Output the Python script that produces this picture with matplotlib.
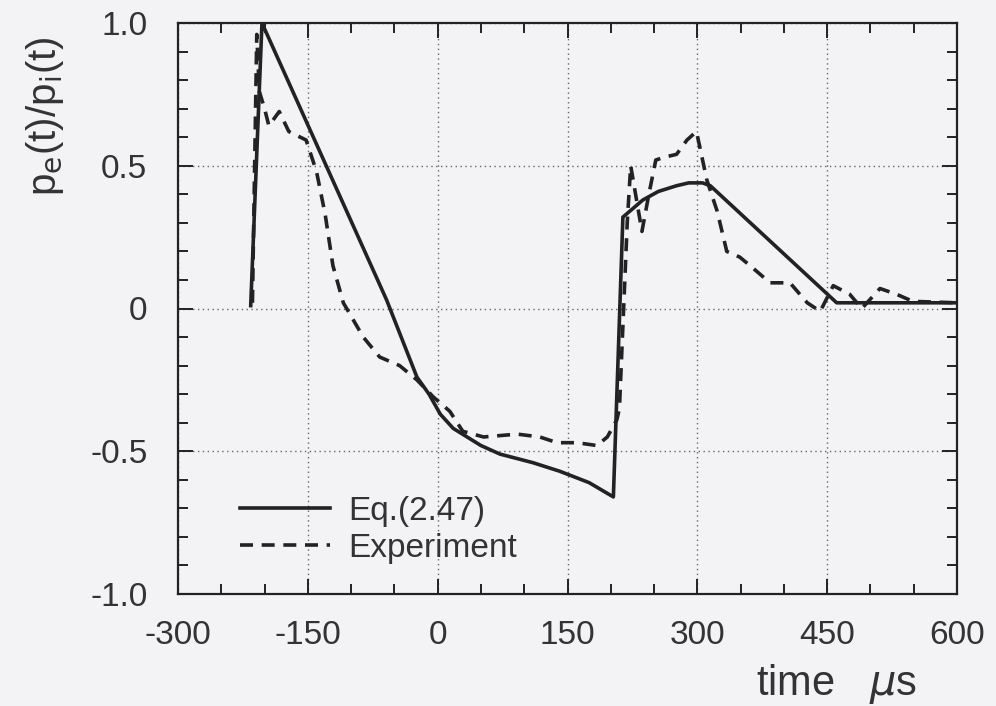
import numpy as np
import matplotlib
matplotlib.use("Agg")
from matplotlib import pyplot as plt
from matplotlib.ticker import MultipleLocator

plt.rcParams['font.family'] = ['Liberation Sans', 'DejaVu Sans']
plt.rcParams['mathtext.fontset'] = 'dejavusans'

# Eq.(2.47) curve (time in microseconds)
t_eq = [-216, -203, -59, -24, -10, 3, 18, 34, 50, 72, 110, 141, 175, 203,
        214, 237, 255, 276, 290, 306, 315, 461, 600]
p_eq = [0.01, 1.0, 0.03, -0.24, -0.30, -0.37, -0.42, -0.45, -0.48, -0.51,
        -0.54, -0.57, -0.61, -0.66,
        0.32, 0.38, 0.41, 0.43, 0.44, 0.44, 0.43, 0.02, 0.02]

# measured curve
t_exp = [-214, -209, -206, -200, -195, -183, -172, -152, -140, -130, -121,
         -109, -86, -67, -44, -24, -5, 14, 29, 53, 92, 118, 138, 161, 184,
         196, 207, 210, 219, 223, 236, 244, 252, 262, 276, 288, 299, 311,
         323, 334, 349, 361, 384, 407, 427, 442, 457, 476, 490, 511, 530,
         549, 600]
p_exp = [0.02, 0.96, 0.76, 0.70, 0.64, 0.69, 0.62, 0.59, 0.48, 0.33, 0.15,
         0.02, -0.10, -0.17, -0.20, -0.25, -0.31, -0.36, -0.43, -0.45, -0.44,
         -0.45, -0.47, -0.47, -0.48, -0.45, -0.39, -0.35, 0.30, 0.50, 0.27,
         0.40, 0.52, 0.53, 0.54, 0.59, 0.62, 0.45, 0.34, 0.20, 0.18, 0.15,
         0.09, 0.09, 0.02, -0.01, 0.08, 0.05, 0.0, 0.07, 0.05, 0.025, 0.02]

x_ticks = [-300, -150, 0, 150, 300, 450, 600]
y_ticks = [-1.0, -0.5, 0, 0.5, 1.0]
y_labels = ['-1.0', '-0.5', '0', '0.5', '1.0']

bg = '#f3f2f5'
ink = '#222222'
txt = '#333333'

fig = plt.figure(figsize=(9.96, 7.06), dpi=100, facecolor=bg)
ax = fig.add_axes([178 / 996, 1 - 594 / 706, 779 / 996, 571 / 706])
ax.set_facecolor(bg)

ax.plot(t_eq, p_eq, color=ink, lw=2.6, label='Eq.(2.47)',
        solid_joinstyle='round')
ax.plot(t_exp, p_exp, color=ink, lw=2.6, linestyle=(0, (3.6, 2.4)),
        label='Experiment')

ax.set_xlim(-300, 600)
ax.set_ylim(-1.0, 1.0)
ax.set_xticks(x_ticks)
ax.set_xticklabels([str(v) for v in x_ticks])
ax.set_yticks(y_ticks)
ax.set_yticklabels(y_labels)
ax.xaxis.set_minor_locator(MultipleLocator(50))
ax.yaxis.set_minor_locator(MultipleLocator(0.1))

ax.grid(True, which='major', color='#666666', linestyle=(0, (1, 2.5)), lw=1.0)
ax.tick_params(which='both', direction='in', top=True, right=True,
               colors=ink, width=1.4, labelcolor=txt, labelsize=24)
ax.tick_params(which='major', length=11)
ax.tick_params(which='minor', length=7)
ax.tick_params(axis='x', pad=19)
ax.tick_params(axis='y', pad=22)
for s in ax.spines.values():
    s.set_color(ink)
    s.set_linewidth(1.6)

leg = ax.legend(loc='upper left', bbox_to_anchor=(240 / 996, 1 - 496 / 706),
                bbox_transform=fig.transFigure, frameon=False, fontsize=24,
                handlelength=2.7, handletextpad=0.55, labelspacing=0.18,
                borderpad=0, borderaxespad=0)
for t in leg.get_texts():
    t.set_color(txt)

fig.text(45 / 996, 1 - 116 / 706, r'p$_{\rm e}$(t)/p$_{\rm i}$(t)',
         rotation=90, ha='center', va='center', fontsize=29, color=txt)
fig.text(756 / 996, 1 - 684 / 706, r'time   $\mu$s', ha='left', va='center',
         fontsize=30, color=txt)

fig.savefig('out.png', dpi=100, facecolor=bg)
